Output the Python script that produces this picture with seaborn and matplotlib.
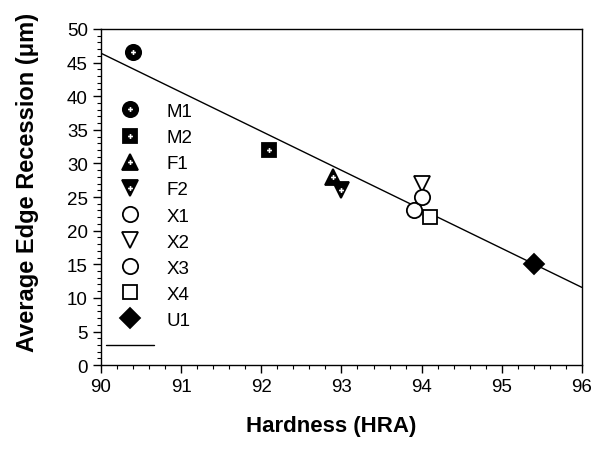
import matplotlib
matplotlib.use("Agg")
import matplotlib.pyplot as plt
import seaborn as sns
import pandas as pd
from matplotlib.legend_handler import HandlerTuple
from matplotlib.ticker import MultipleLocator

# hardness vs edge recession, one point per grade
grades = ["M1", "M2", "F1", "F2", "X1", "X2", "X3", "X4", "U1"]
hardness = [90.4, 92.1, 92.9, 93.0, 93.9, 94.0, 94.0, 94.1, 95.4]
recession = [46.5, 32.0, 28.0, 26.0, 23.0, 27.0, 25.0, 22.0, 15.0]

# marker shape, filled?, size
styles = {
    "M1": ("o", True, 11),
    "M2": ("s", True, 10),
    "F1": ("^", True, 12),
    "F2": ("v", True, 12),
    "X1": ("o", False, 11),
    "X2": ("v", False, 12),
    "X3": ("o", False, 11),
    "X4": ("s", False, 10),
    "U1": ("D", True, 10),
}
dotted = ["M1", "M2", "F1", "F2"]

df = pd.DataFrame({"grade": grades, "hardness": hardness, "recession": recession})

sns.set_style("ticks")
plt.rcParams["font.family"] = ["Liberation Sans", "DejaVu Sans"]
plt.rcParams["text.color"] = "black"
plt.rcParams["axes.labelcolor"] = "black"

fig, ax = plt.subplots(figsize=(5.98, 4.60), dpi=100)
fig.subplots_adjust(left=0.169, right=0.973, bottom=0.204, top=0.935)

ax.set_xlim(90, 96)
ax.set_ylim(0, 50)

# least squares fit over the full x range
sns.regplot(data=df, x="hardness", y="recession", ax=ax, ci=None,
            truncate=False, scatter=False,
            line_kws={"color": "black", "lw": 1})
fit_line = ax.lines[-1]

handles = []
for g, x, y in zip(grades, hardness, recession):
    mk, filled, ms = styles[g]
    h = ax.plot(x, y, linestyle="none", marker=mk, ms=ms,
                mfc="black" if filled else "white", mec="black",
                mew=1.3, zorder=3)[0]
    if g in dotted:
        d = ax.plot(x, y, linestyle="none", marker="P", ms=3.5,
                    mfc="white", mec="white", mew=0, zorder=4)[0]
        handles.append((h, d))
    else:
        handles.append(h)

handles.append(fit_line)
labels = grades + [""]

ax.legend(handles, labels, handler_map={tuple: HandlerTuple(ndivide=1, pad=0)},
          loc="upper left", bbox_to_anchor=(0.01, 0.78), frameon=False,
          fontsize=13.5, borderpad=0, borderaxespad=0, labelspacing=0.48,
          handlelength=2.56, handletextpad=0.7)

ax.xaxis.set_major_locator(MultipleLocator(1))
ax.xaxis.set_minor_locator(MultipleLocator(0.2))
ax.yaxis.set_major_locator(MultipleLocator(5))
ax.yaxis.set_minor_locator(MultipleLocator(1))
ax.tick_params(which="major", direction="out", length=6, width=1, labelsize=13.5,
               color="black", labelcolor="black")
ax.tick_params(which="minor", direction="out", length=3, width=0.8, color="black")

for s in ax.spines.values():
    s.set_visible(True)
    s.set_color("black")
    s.set_linewidth(1)

ax.set_xlabel("Hardness (HRA)", fontsize=16, fontweight="bold", color="black")
ax.set_ylabel("Average Edge Recession (\u03bcm)", fontsize=17, fontweight="bold",
              color="black")
ax.xaxis.set_label_coords(0.478, -0.147)
ax.yaxis.set_label_coords(-0.13, 0.545)

fig.savefig("out.png", dpi=100)
